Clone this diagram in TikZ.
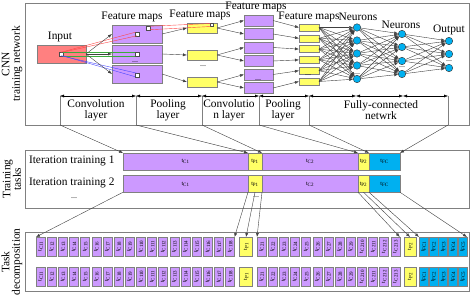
\documentclass[tikz,border=0pt]{standalone}
\usepackage{fontspec}
\setmainfont{Liberation Serif}
\usetikzlibrary{arrows.meta}
\definecolor{cpurple}{RGB}{204,153,255}
\definecolor{cyellow}{RGB}{255,255,102}
\definecolor{ccyan}{RGB}{0,176,240}
\definecolor{cpink}{RGB}{255,128,128}
\definecolor{cred}{RGB}{255,70,70}
\definecolor{cgreen}{RGB}{60,170,60}
\definecolor{cblue}{RGB}{70,70,255}
\begin{document}
\begin{tikzpicture}[x=1pt,y=-1pt,
  every node/.style={inner sep=0pt, outer sep=0pt},
  lbl/.style={font=\fontsize{11.4}{11}\selectfont, align=center},
  side/.style={font=\fontsize{11.4}{10.5}\selectfont, align=center, rotate=90},
  pbox/.style={draw=gray, fill=cpurple, line width=0.5pt},
  ybox/.style={draw=gray, fill=cyellow, line width=0.5pt},
  cbox/.style={draw=gray, fill=ccyan, line width=0.5pt},
  frame/.style={draw=gray, line width=0.8pt},
  sq/.style={draw=black!70, fill=white, line width=0.4pt, minimum size=3.5pt},
  neuron/.style={circle, draw=black!80, fill=ccyan, line width=0.4pt, minimum size=7.5pt},
  arr/.style={draw=black!75, line width=0.4pt, -{Latex[length=4pt,width=3pt]}},
  dim/.style={draw=black, line width=0.4pt, {Latex[length=4pt,width=3pt]}-{Latex[length=4pt,width=3pt]}},
  vline/.style={draw=gray, line width=0.5pt},
  dots/.style={font=\fontsize{8}{8}\selectfont},
  tiny6/.style={font=\fontsize{6}{6}\selectfont},
  dbox/.style={minimum width=9pt, minimum height=19pt, font=\fontsize{6}{6}\selectfont},
]
\useasboundingbox (0,0) rectangle (471,296);

% ---------- frames ----------
\draw[frame] (25,3) rectangle (469,125);
\draw[frame] (25,150) rectangle (469,208);
\draw[frame] (25,232) rectangle (469,291);
\node[side] (lab1) at (12,64) {CNN\\training network};
\node[side] (lab2) at (12,179) {Training\\tasks};
\node[side] (lab3) at (12,262) {Task\\decomposition};

% ---------- CNN network ----------
\node[draw=gray, fill=cpink, line width=0.5pt, minimum width=49pt, minimum height=18pt] (inp) at (61.5,54) {};
\node[lbl] (tin) at (60,37) {Input};
\node[sq] (s0) at (61,54) {};

\node[pbox, minimum width=50pt, minimum height=18pt] (f1a) at (137,34) {};
\node[pbox, minimum width=50pt, minimum height=18pt] (f1b) at (137,54) {};
\node[pbox, minimum width=50pt, minimum height=18pt] (f1c) at (137,74) {};
\node[dots] (d1) at (135,62) {...};
\node[lbl] (tf1) at (132,17) {Feature maps};
\node[sq] (s1a) at (137,34) {};
\node[sq] (s1b) at (137,54) {};
\node[sq] (s1c) at (137,75) {};
\node[sq] (s1t) at (148,28) {};

\node[ybox, minimum width=30pt, minimum height=10pt] (f2a) at (202,28) {};
\node[ybox, minimum width=30pt, minimum height=10pt] (f2b) at (202,55) {};
\node[ybox, minimum width=30pt, minimum height=10pt] (f2c) at (202,82) {};
\node[dots] (d2) at (203,66) {...};
\node[lbl] (tf2) at (200,15) {Feature maps};
\node[sq, minimum size=3pt] (s2a) at (212,25) {};

\foreach \i/\y in {1/20.5,2/34,3/47.5,4/61,5/74.5,6/88}
  \node[pbox, minimum width=29pt, minimum height=11pt] (f3-\i) at (258.5,\y) {};
\node[dots] (d3) at (258,80.5) {...};
\node[lbl] (tf3) at (256,7) {Feature maps};

\foreach \i/\y in {1/27.5,2/38.3,3/49.1,4/59.9,5/70.7,6/81.5}
  \node[ybox, minimum width=20pt, minimum height=7pt] (f4-\i) at (309,\y) {};
\node[dots] (d4) at (308,75) {...};
\node[lbl] (tf4) at (309,17) {Feature maps};

\foreach \i/\y in {1/27.5,2/40.5,3/53.5,4/65.5,5/79}
  \node[neuron] (n1-\i) at (357,\y) {};
\node[dots] (d5) at (357,74) {...};
\node[lbl] (tn1) at (358,17) {Neurons};

\foreach \i/\y in {1/34,2/47,3/61,4/74}
  \node[neuron] (n2-\i) at (402,\y) {};
\node[dots] (d6) at (402,67.5) {...};
\node[lbl] (tn2) at (401,25) {Neurons};

\foreach \i/\y in {1/41,2/54,3/68}
  \node[neuron] (n3-\i) at (449,\y) {};
\node[dots] (d7) at (449,61) {...};
\node[lbl] (tout) at (449,30) {Output};

% colored receptive-field lines
\draw[cred, line width=0.4pt] (s0.north) -- (s1a.north west);
\draw[cred, line width=0.4pt] (s0.north east) -- (s1a.south);
\draw[cgreen, line width=0.4pt] (s0.north east) -- (s1b.north west);
\draw[cgreen, line width=0.4pt] (s0.south east) -- (s1b.south west);
\draw[cblue, line width=0.4pt] (s0.south) -- (s1c.north);
\draw[cblue, line width=0.4pt] (s0.south east) -- (s1c.south west);
\draw[cred, line width=0.4pt] (s1t.north east) -- (s2a.north west);
\draw[cred, line width=0.4pt] (s1t.south east) -- (s2a.south west);

% connectors
\foreach \t in {f1a,f1b,f1c} \draw[arr] (inp.east) -- (\t.west);
\draw[arr] (f1a.east) -- (f2a.west);
\draw[arr] (f1b.east) -- (f2b.west);
\draw[arr] (f1c.east) -- (f2c.west);
\draw[arr] (f2a.east) -- (f3-1.west);
\draw[arr] (f2a.east) -- (f3-2.west);
\draw[arr] (f2b.east) -- (f3-3.west);
\draw[arr] (f2b.east) -- (f3-4.west);
\draw[arr] (f2c.east) -- (f3-5.west);
\draw[arr] (f2c.east) -- (f3-6.west);
\foreach \i in {1,...,6} \draw[arr] (f3-\i.east) -- (f4-\i.west);
\foreach \i in {1,...,6}{\foreach \j in {1,...,5}{\draw[arr] (f4-\i.east) -- (n1-\j);}}
\foreach \i in {1,...,5}{\foreach \j in {1,...,4}{\draw[arr] (n1-\i) -- (n2-\j);}}
\foreach \i in {1,...,4}{\foreach \j in {1,...,3}{\draw[arr] (n2-\i) -- (n3-\j);}}

% layer dimension row
\foreach \n/\x in {1/60,2/136,3/202,4/259,5/309,6/356,7/403,8/448}
  \coordinate (L\n) at (\x,96);
\foreach \n/\x in {1/60,2/136,3/202,4/259,5/309,8/448}
  {\coordinate (B\n) at (\x,125); \draw[vline] (L\n) -- (B\n);}
\draw[dim] (L1) -- (L2);
\draw[dim] (L2) -- (L3);
\draw[dim] (L3) -- (L4);
\draw[dim] (L4) -- (L5);
\draw[dim] (L5) -- (L6);
\draw[dim] (L6) -- (L7);
\draw[dim] (L7) -- (L8);
\node[lbl] (ly1) at (96,110) {Convolution\\layer};
\node[lbl] (ly2) at (168,110) {Pooling\\layer};
\node[lbl] (ly3) at (229,110) {Convolutio\\n layer};
\node[lbl] (ly4) at (283,110) {Pooling\\layer};
\node[lbl] (ly5) at (381,110) {Fully-connected\\netwrk};

% ---------- training tasks ----------
\node[lbl, anchor=west] (it1) at (29,161) {Iteration training 1};
\node[lbl, anchor=west] (it2) at (29,183) {Iteration training 2};
\node[dots] (d8) at (74,198) {...};
\node[dots] (d9) at (256,197) {...};

\node[pbox, minimum width=125pt, minimum height=17pt, tiny6] (bc1) at (185.5,161.5) {t\textsubscript{C1}};
\node[ybox, minimum width=14pt, minimum height=17pt, tiny6] (bp1) at (255,161.5) {t\textsubscript{P1}};
\node[pbox, minimum width=96pt, minimum height=17pt, tiny6] (bc2) at (310,161.5) {t\textsubscript{C2}};
\node[ybox, minimum width=11pt, minimum height=17pt, tiny6] (bp2) at (363.5,161.5) {t\textsubscript{P2}};
\node[cbox, minimum width=31pt, minimum height=17pt, tiny6] (bfc) at (384.5,161.5) {t\textsubscript{FC}};

\node[pbox, minimum width=125pt, minimum height=16.5pt, tiny6] (cc1) at (185.5,184) {t\textsubscript{C1}};
\node[ybox, minimum width=14pt, minimum height=16.5pt, tiny6] (cp1) at (255,184) {t\textsubscript{P1}};
\node[pbox, minimum width=96pt, minimum height=16.5pt, tiny6] (cc2) at (310,184) {t\textsubscript{C2}};
\node[ybox, minimum width=11pt, minimum height=16.5pt, tiny6] (cp2) at (363.5,184) {t\textsubscript{P2}};
\node[cbox, minimum width=31pt, minimum height=16.5pt, tiny6] (cfc) at (384.5,184) {t\textsubscript{FC}};

\draw[arr] (B1) -- (bc1.north west);
\draw[arr] (B2) -- (bp1.north west);
\draw[arr] (B3) -- (bp1.north east);
\draw[arr] (B4) -- (bp2.north west);
\draw[arr] (B5) -- (bp2.north east);
\draw[arr] (B8) -- (bfc.north east);

% ---------- task decomposition ----------
\foreach \r/\y in {1/246.5,2/276.5}{
  \foreach \i in {1,...,18}{
    \pgfmathsetmacro\xx{40.5+11.15*(\i-1)}
    \node[pbox, dbox] (r\r c1-\i) at (\xx,\y) {\rotatebox{90}{t\textsubscript{C1\i}}};
  }
  \node[ybox, dbox, minimum width=13pt] (r\r p1) at (246,\y) {\rotatebox{90}{t\textsubscript{P1}}};
  \foreach \i in {1,...,13}{
    \pgfmathsetmacro\xx{261.5+11.15*(\i-1)}
    \node[pbox, dbox] (r\r c2-\i) at (\xx,\y) {\rotatebox{90}{t\textsubscript{C2\i}}};
  }
  \node[ybox, dbox, minimum width=12pt] (r\r p2) at (410,\y) {\rotatebox{90}{t\textsubscript{P2}}};
  \foreach \i in {1,...,5}{
    \pgfmathsetmacro\xx{423.5+9.75*(\i-1)}
    \node[cbox, dbox] (r\r fc-\i) at (\xx,\y) {\rotatebox{90}{t\textsubscript{FC\i}}};
  }
}

\draw[arr] (cc1.south west) -- (r1c1-1.north west);
\draw[arr] (cp1.south west) -- (r1c1-18.north east);
\draw[arr] (cp1.south) -- (r1p1.north);
\draw[arr] (cp1.south east) -- (r1c2-1.north west);
\draw[arr] (cp2.south west) -- (r1c2-13.north east);
\draw[arr] (cp2.south) -- (r1p2.north);
\draw[arr] (cp2.south east) -- (r1fc-1.north west);
\draw[arr] (cfc.south east) -- (r1fc-5.north east);
\end{tikzpicture}
\end{document}
